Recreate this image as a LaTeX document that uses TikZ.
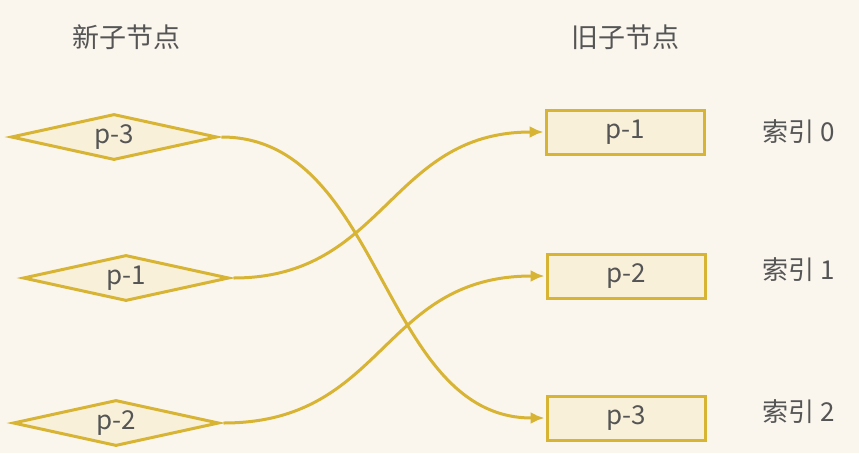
\documentclass[tikz,border=0pt]{standalone}
\usepackage{fontspec}
\newfontfamily\cjk{Noto Sans CJK SC}
\usepackage{tikz}
\usetikzlibrary{shapes.geometric , arrows.meta}

\definecolor{bgcream}{HTML}{FAF6EE}
\definecolor{nodegold}{HTML}{D8B434}
\definecolor{nodefill}{HTML}{F8F0D9}
\definecolor{textgray}{HTML}{555555}

\tikzset{
    newnode/.style = {diamond , draw = nodegold , fill = nodefill , line width = 3pt ,
        minimum width = 206pt , minimum height = 46pt , inner sep = 0pt , aspect = 4 ,
        text = textgray , font = \cjk\fontsize{26}{30}\selectfont},
    oldnode/.style = {rectangle , draw = nodegold , fill = nodefill , line width = 3pt ,
        minimum width = 158pt , minimum height = 44pt , inner sep = 0pt ,
        text = textgray , font = \cjk\fontsize{26}{30}\selectfont},
    title/.style = {text = textgray , font = \cjk\fontsize{27}{30}\selectfont},
    index/.style = {text = textgray , font = \cjk\fontsize{26}{30}\selectfont},
    move/.style = {draw = nodegold , line width = 3pt , -{Latex[length = 14pt , width = 12pt]} ,
        shorten < = 3pt , shorten > = 1pt}
}

\begin{document}
\begin{tikzpicture}[x = 1pt , y = -1pt]
    \fill[bgcream] (0,0) rectangle (859,453);
    \useasboundingbox (0,0) rectangle (859,453);

    % titles
    \node[title] (newtitle) at (126, 37) {新子节点};
    \node[title] (oldtitle) at (625, 37) {旧子节点};

    % new children
    \node[newnode] (n3) at (114, 137) {p-3};
    \node[newnode] (n1) at (126, 278) {p-1};
    \node[newnode] (n2) at (116, 423) {p-2};

    % old children
    \node[oldnode] (o1) at (625, 132) {p-1};
    \node[oldnode] (o2) at (626, 276) {p-2};
    \node[oldnode] (o3) at (626, 418) {p-3};

    % indexes
    \node[index] (i0) at (799, 132) {索引 0};
    \node[index] (i1) at (799, 270) {索引 1};
    \node[index] (i2) at (799, 412) {索引 2};

    % moves
    \draw[move] (n3.east) .. controls +(165,0) and +(-165,0) .. (o3.west);
    \draw[move] (n1.east) .. controls +(155,0) and +(-155,0) .. (o1.west);
    \draw[move] (n2.east) .. controls +(165,0) and +(-165,0) .. (o2.west);
\end{tikzpicture}
\end{document}
